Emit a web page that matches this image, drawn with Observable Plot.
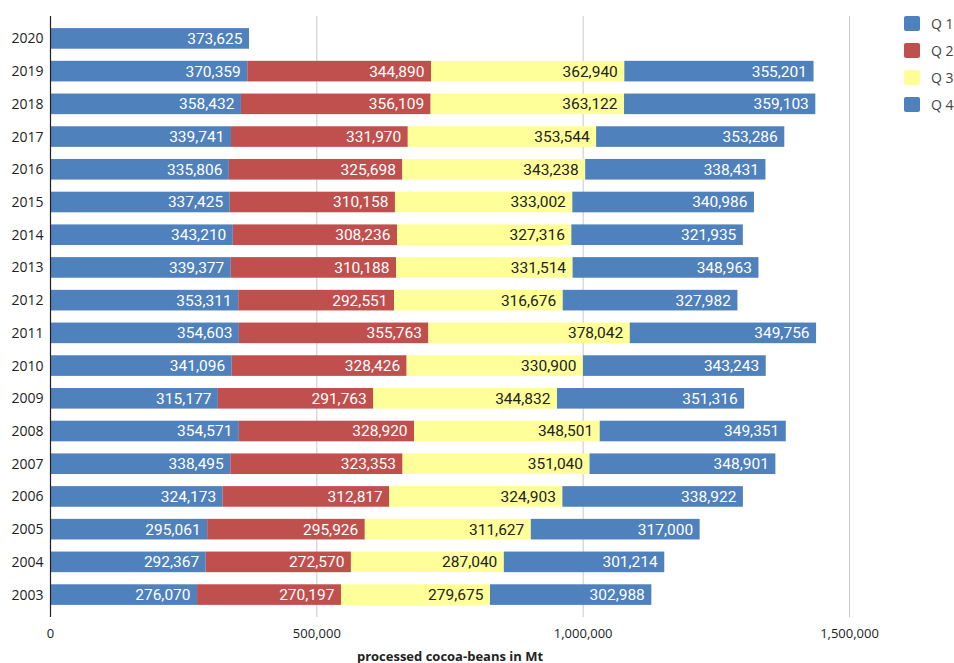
<!DOCTYPE html>
<html>
<head>
<meta charset="utf-8">
<script src="https://cdn.jsdelivr.net/npm/d3@7"></script>
<script src="https://cdn.jsdelivr.net/npm/@observablehq/plot@0.6"></script>
<style>
  html, body { margin: 0; padding: 0; background: #fff; }
  #wrap { position: relative; width: 954px; height: 663px; }
  #legend { position: absolute; left: 904px; top: 10px; width: 50px; font-family: "Open Sans", sans-serif; font-size: 14px; color: #444; white-space: nowrap; }
  .item { display: flex; align-items: center; height: 27px; }
  .sw { flex: none; width: 16px; height: 15px; border-radius: 2px; margin-right: 11px; }
</style>
</head>
<body>
<div id="wrap"><div id="legend"></div></div>
<script>
const years = ["2020","2019","2018","2017","2016","2015","2014","2013","2012","2011","2010","2009","2008","2007","2006","2005","2004","2003"];
const quarters = ["Q 1","Q 2","Q 3","Q 4"];
const colors = ["#4f81bd","#c0504d","#ffff99","#4f81bd"];
const q1 = [373625,370359,358432,339741,335806,337425,343210,339377,353311,354603,341096,315177,354571,338495,324173,295061,292367,276070];
const q2 = [null,344890,356109,331970,325698,310158,308236,310188,292551,355763,328426,291763,328920,323353,312817,295926,272570,270197];
const q3 = [null,362940,363122,353544,343238,333002,327316,331514,316676,378042,330900,344832,348501,351040,324903,311627,287040,279675];
const q4 = [null,355201,359103,353286,338431,340986,321935,348963,327982,349756,343243,351316,349351,348901,338922,317000,301214,302988];
const xTicks = [0, 500000, 1000000, 1500000];

const series = [q1, q2, q3, q4];
const data = [];
years.forEach((y, i) => {
  series.forEach((s, qi) => {
    if (s[i] != null) data.push({year: y, q: quarters[qi], qi, value: s[i]});
  });
});

const fmt = d3.format(",");
const chart = Plot.plot({
  width: 954,
  height: 663,
  marginLeft: 50,
  marginRight: 105,
  marginTop: 16,
  marginBottom: 46,
  style: {fontFamily: "Open Sans, sans-serif", fontSize: "14px", color: "#222", background: "#fff"},
  x: {domain: [0, 1500000], ticks: xTicks, tickFormat: fmt, tickSize: 0, tickPadding: 11,
      label: "processed cocoa-beans in Mt", labelAnchor: "center", labelArrow: "none", labelOffset: 43},
  y: {domain: years, padding: 0.37, round: false, tickSize: 0, tickPadding: 7, label: null},
  color: {domain: [0,1,2,3], range: colors},
  marks: [
    Plot.gridX(xTicks.slice(1), {stroke: "#c8c8c8", strokeOpacity: 1, strokeWidth: 1}),
    Plot.barX(data, Plot.stackX({x: "value", y: "year", fill: "qi", order: "qi"})),
    Plot.text(data, Plot.stackX2({x: "value", y: "year", order: "qi",
      text: d => fmt(d.value), textAnchor: "end", dx: -7,
      fill: d => d.qi === 2 ? "#222" : "#fff",
      fontFamily: "Roboto, sans-serif", fontSize: 15.5})),
    Plot.ruleX([0], {stroke: "#222", strokeWidth: 1.2})
  ]
});
d3.select(chart).selectAll("g[aria-label='x-axis label'] text").style("font-weight", "bold").style("font-size", "13px");
d3.select(chart).selectAll("g[aria-label='x-axis tick label'] text").style("font-size", "13px");
document.getElementById("wrap").prepend(chart);

const legend = document.getElementById("legend");
quarters.forEach((q, i) => {
  const it = document.createElement("div");
  it.className = "item";
  it.innerHTML = `<div class="sw" style="background:${colors[i]}"></div><span>${q}</span>`;
  legend.appendChild(it);
});
</script>
</body>
</html>
